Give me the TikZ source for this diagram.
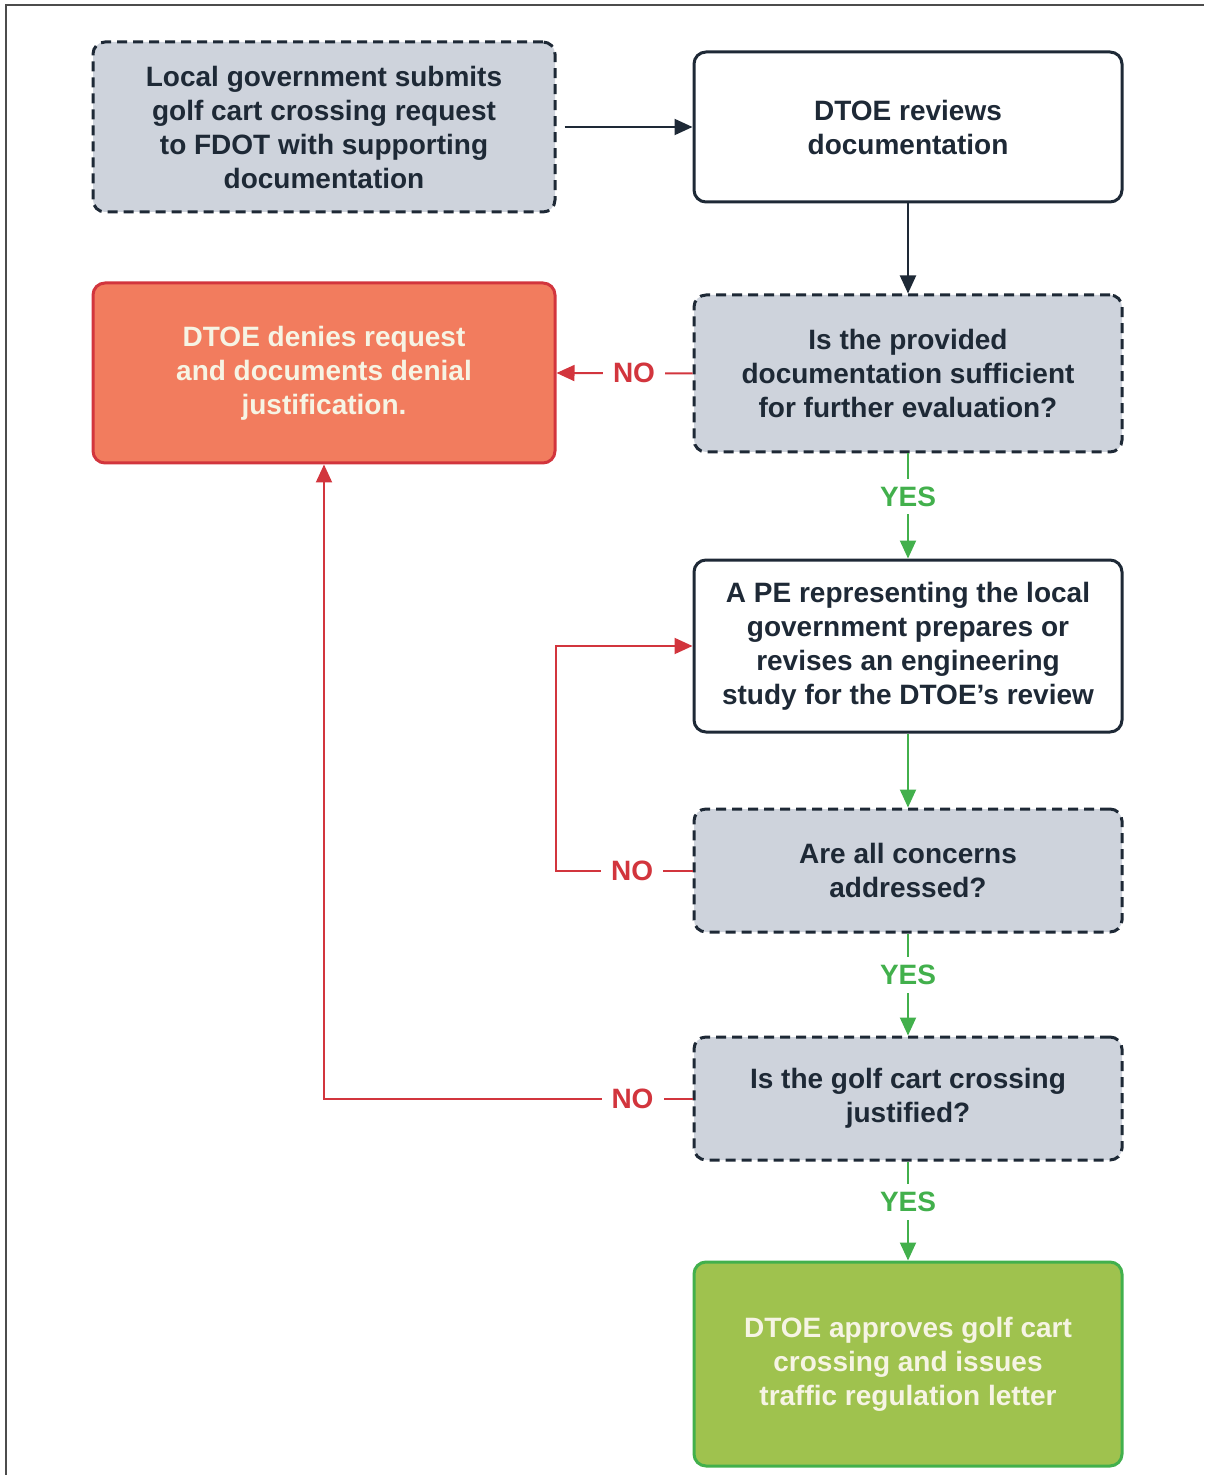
\documentclass[tikz,border=0pt]{standalone}
\usepackage{fontspec}
\setmainfont{Liberation Sans}
\usepackage{xcolor}
\usepackage{tikz}
\usetikzlibrary{arrows.meta}
\usetikzlibrary{calc}

\definecolor{inkdark}{HTML}{1E2936}
\definecolor{boxgray}{HTML}{CED3DC}
\definecolor{denyfill}{HTML}{F27C5E}
\definecolor{denyred}{HTML}{D2353D}
\definecolor{okfill}{HTML}{9FC24E}
\definecolor{okgreen}{HTML}{42B04C}
\definecolor{lighttext}{HTML}{F6F4E4}

\begin{document}
\begin{tikzpicture}[x=0.5pt,y=-0.5pt,
        font=\fontsize{14}{17}\selectfont\bfseries,
        base/.style={rounded corners=6pt,line width=1.5pt,align=center,inner sep=2pt},
        wide/.style={minimum width=231pt},
        narrow/.style={minimum width=214pt},
        askbox/.style={base,narrow,draw=inkdark,fill=boxgray,text=inkdark,dash pattern=on 5pt off 3pt},
        stepbox/.style={base,narrow,draw=inkdark,fill=white,text=inkdark},
        tip/.style={-{Triangle[length=9pt,width=8pt]}},
        darkline/.style={tip,line width=1pt,draw=inkdark},
        noline/.style={tip,line width=1pt,draw=denyred},
        yesline/.style={tip,line width=1pt,draw=okgreen},
        nolbl/.style={fill=white,text=denyred,inner sep=5pt},
        yeslbl/.style={fill=white,text=okgreen,inner sep=4pt}]
        \useasboundingbox (0,0) rectangle (1204,1475);
        % frame
        \draw[line width=1.2pt,draw=black!70] (6,1475) -- (6,5) -- (1204,5);

        \draw (324,127) coordinate (p1);
        \draw (908,127) coordinate (p2);
        \draw (908,373.5) coordinate (p3);
        \draw (324,373) coordinate (p4);
        \draw (908,646) coordinate (p5);
        \draw (908,870.5) coordinate (p6);
        \draw (908,1098.5) coordinate (p7);
        \draw (908,1364) coordinate (p8);

        \node[askbox,wide,minimum height=85pt] (submit) at (p1)
            {Local government submits\\golf cart crossing request\\to FDOT with supporting\\documentation};
        \node[stepbox,minimum height=75pt] (review) at (p2) {DTOE reviews\\documentation};
        \node[askbox,minimum height=78.5pt] (enough) at (p3)
            {Is the provided\\documentation sufficient\\for further evaluation?};
        \node[base,wide,minimum height=90pt,draw=denyred,fill=denyfill,text=lighttext] (deny) at (p4)
            {DTOE denies request\\and documents denial\\justification.};
        \node[stepbox,minimum height=86pt] (study) at (p5)
            {A PE representing the local\\government prepares or\\revises an engineering\\study for the DTOE’s review};
        \node[askbox,minimum height=61.5pt] (concerns) at (p6) {Are all concerns\\addressed?};
        \node[askbox,minimum height=61.5pt] (justified) at (p7) {Is the golf cart crossing\\justified?};
        \node[base,narrow,minimum height=102pt,draw=okgreen,fill=okfill,text=lighttext] (approve) at (p8)
            {DTOE approves golf cart\\crossing and issues\\traffic regulation letter};

        \draw[darkline] ($(submit.east)+(8,0)$) -- (review.west);
        \draw[darkline] (review) -- (enough);

        \draw[noline] (enough.west) -- node[nolbl,pos=0.43]{NO} (deny.east);
        \draw[noline] (concerns.west) -- node[nolbl,pos=0.44]{NO} ++(-137,0) |- (study.west);
        \draw[noline] (justified.west) -- node[nolbl]{NO} ++(-120,0) -| (deny.south);

        \draw[yesline] (enough) -- node[yeslbl,pos=0.41]{YES} (study);
        \draw[darkline,draw=okgreen] (study) -- (concerns);
        \draw[yesline] (concerns) -- node[yeslbl,pos=0.41]{YES} (justified);
        \draw[yesline] (justified) -- node[yeslbl,pos=0.41]{YES} (approve);
    \end{tikzpicture}
\end{document}
